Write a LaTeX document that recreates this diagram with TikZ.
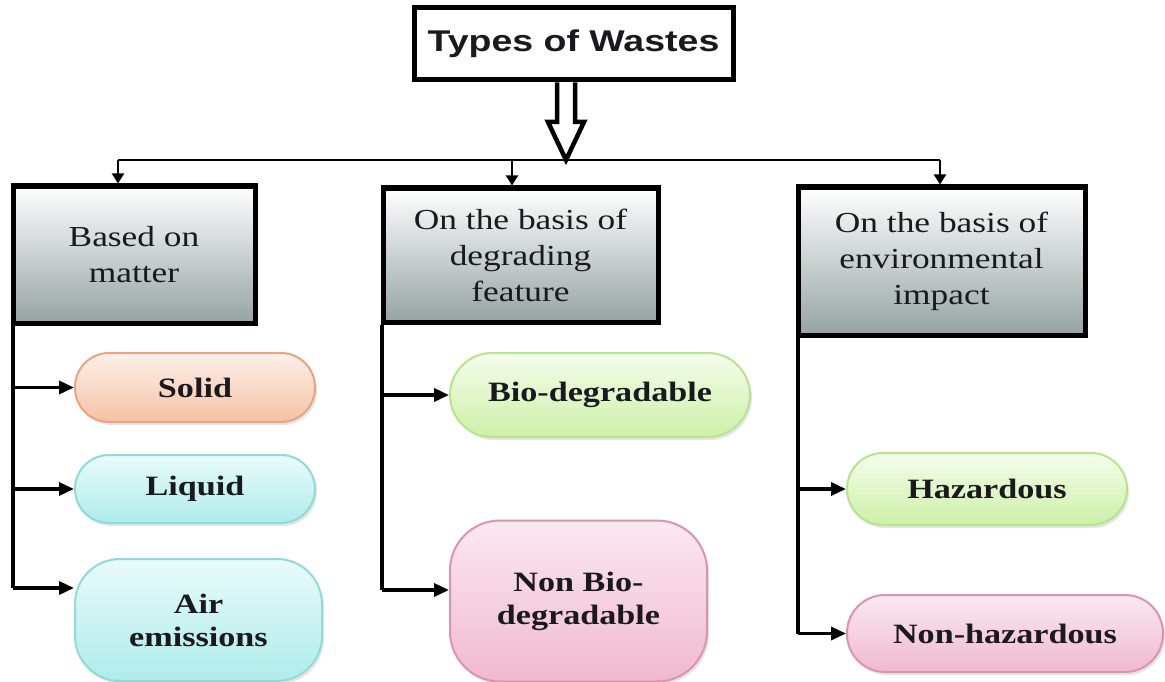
\documentclass[tikz,border=0pt]{standalone}
\usepackage{fontspec}
\setmainfont[FakeStretch=1.22]{Liberation Serif}
\newfontfamily\titlefont[FakeStretch=1.25]{Liberation Sans}
\usetikzlibrary{arrows.meta,shadows}
\definecolor{boxgray}{RGB}{150,163,163}
\definecolor{orBorder}{RGB}{233,165,131}\definecolor{orTop}{RGB}{253,240,234}\definecolor{orBot}{RGB}{245,194,165}
\definecolor{cyBorder}{RGB}{142,219,216}\definecolor{cyTop}{RGB}{233,251,250}\definecolor{cyBot}{RGB}{174,236,235}
\definecolor{grBorder}{RGB}{185,227,143}\definecolor{grTop}{RGB}{245,253,236}\definecolor{grBot}{RGB}{205,240,168}
\definecolor{pkBorder}{RGB}{220,147,179}\definecolor{pkTop}{RGB}{251,233,241}\definecolor{pkBot}{RGB}{240,184,208}
\definecolor{ink}{RGB}{25,25,30}
\tikzset{
  catbox/.style={draw=black, line width=5pt, top color=white, bottom color=boxgray,
    minimum width=#1, inner sep=0pt, align=center, text=ink,
    font=\fontsize{29}{36}\selectfont, drop shadow={opacity=0.3, shadow xshift=3pt, shadow yshift=-3pt}},
  pill/.style={line width=2pt, inner sep=0pt, align=center, text=ink,
    font=\fontsize{28}{33}\selectfont\bfseries,
    drop shadow={opacity=0.2, shadow xshift=2pt, shadow yshift=-3pt}},
  orpill/.style={pill, draw=orBorder, top color=orTop, bottom color=orBot},
  cypill/.style={pill, draw=cyBorder, top color=cyTop, bottom color=cyBot},
  grpill/.style={pill, draw=grBorder, top color=grTop, bottom color=grBot},
  pkpill/.style={pill, draw=pkBorder, top color=pkTop, bottom color=pkBot},
  harrow/.style={line width=3.5pt, -{Triangle[length=15pt,width=13pt]}},
  darrow/.style={line width=2pt, -{Triangle[length=10pt,width=12pt]}},
  spine/.style={line width=4pt},
}
\begin{document}
\begin{tikzpicture}[x=1pt,y=-1pt]
\useasboundingbox[fill=white] (0,0) rectangle (1165,682);

% title
\node[draw=black, line width=5pt, fill=white, minimum width=319pt, minimum height=72pt, text=ink,
  font=\titlefont\fontsize{30}{34}\selectfont\bfseries] (title) at (573.5,44) {Types of Wastes};

% category boxes
\node[catbox=242pt, minimum height=137pt] (b1) at (134,254.5) {Based on\\matter};
\node[catbox=275pt, minimum height=134pt] (b2) at (520.5,255) {On the basis of\\degrading\\feature};
\node[catbox=287pt, minimum height=148pt] (b3) at (941.5,261) {On the basis of\\environmental\\impact};

% bus
\coordinate (busL) at (118,160);
\coordinate (busM) at (512,160);
\coordinate (busR) at (940,160);
\coordinate (tip) at (566,160);
\draw[line width=2.5pt] (busL) -- (busR);
\draw[darrow] (busL) -- (busL |- b1.north);
\draw[darrow] (busM) -- (busM |- b2.north);
\draw[darrow] (busR) -- (busR |- b3.north);

% hollow arrow from title to bus
\draw[line width=4.5pt, fill=white, line join=miter]
  (title.south -| 557,0) -- (557,122) -- (548,122) -- (tip) -- (584,122) -- (575,122) -- (title.south -| 575,0);

% leaf nodes
\node[orpill, minimum width=240pt, minimum height=69pt, rounded corners=34pt] (solid) at (195,387.5) {Solid};
\node[cypill, minimum width=240pt, minimum height=68pt, rounded corners=34pt] (liquid) at (195,489) {Liquid};
\node[cypill, minimum width=247pt, minimum height=122pt, rounded corners=45pt] (air) at (198.5,620) {Air\\emissions};
\node[grpill, minimum width=300pt, minimum height=84pt, rounded corners=42pt] (bio) at (600,395) {Bio-degradable};
\node[pkpill, minimum width=257pt, minimum height=161pt, rounded corners=50pt] (nonbio) at (578.5,601) {Non Bio-\\degradable};
\node[grpill, minimum width=280pt, minimum height=72pt, rounded corners=36pt] (haz) at (987,489) {Hazardous};
\node[pkpill, minimum width=316pt, minimum height=77pt, rounded corners=38pt] (nonhaz) at (1005,633.5) {Non-hazardous};

% spines
\coordinate (s1) at ([xshift=2pt]b1.south west);
\coordinate (s2) at ([xshift=1pt]b2.south west);
\coordinate (s3) at ([xshift=2pt]b3.south west);
\coordinate (a3) at (15,588);
\coordinate (n2) at (384,590);
\draw[spine] (s1) -- (s1 |- a3);
\draw[spine] (s2) -- (s2 |- n2);
\draw[spine] (s3) -- (s3 |- nonhaz.west);

\draw[harrow] (s1 |- solid.west) -- (solid.west);
\draw[harrow] (s1 |- liquid.west) -- (liquid.west);
\draw[harrow] (s1 |- a3) -- (air.west |- a3);
\draw[harrow] (s2 |- bio.west) -- (bio.west);
\draw[harrow] (s2 |- n2) -- (nonbio.west |- n2);
\draw[harrow] (s3 |- haz.west) -- (haz.west);
\draw[harrow] (s3 |- nonhaz.west) -- (nonhaz.west);
\end{tikzpicture}
\end{document}
